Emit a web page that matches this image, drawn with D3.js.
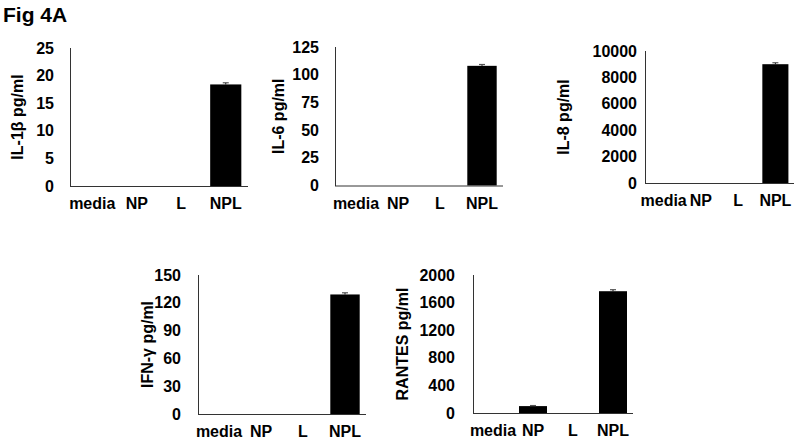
<!DOCTYPE html>
<html>
<head>
<meta charset="utf-8">
<script src="https://cdn.jsdelivr.net/npm/d3@7"></script>
<style>
  body { margin: 0; background: #fff; }
  svg text { font-family: "Liberation Sans", Arial, sans-serif; font-weight: bold; fill: #000; }
</style>
</head>
<body>
<svg id="fig" width="800" height="447"></svg>
<script>
// data
var categories = ["media", "NP", "L", "NPL"];

var il1bValues = [0, 0, 0, 18.4];
var il1bErrors = [0, 0, 0, 0.3];
var il1bTicks = [0, 5, 10, 15, 20, 25];

var il6Values = [0, 0, 0, 108];
var il6Errors = [0, 0, 0, 1.2];
var il6Ticks = [0, 25, 50, 75, 100, 125];

var il8Values = [0, 0, 0, 9000];
var il8Errors = [0, 0, 0, 110];
var il8Ticks = [0, 2000, 4000, 6000, 8000, 10000];

var ifngValues = [0, 0, 0, 129];
var ifngErrors = [0, 0, 0, 1.8];
var ifngTicks = [0, 30, 60, 90, 120, 150];

var rantesValues = [0, 100, 0, 1765];
var rantesErrors = [0, 8, 0, 22];
var rantesTicks = [0, 400, 800, 1200, 1600, 2000];

var titles = ["IL-1\u03b2 pg/ml", "IL-6 pg/ml", "IL-8 pg/ml", "IFN-\u03b3 pg/ml", "RANTES pg/ml"];

// layout of each small panel (pixels)
var panels = [
    { values: il1bValues, errors: il1bErrors, ticks: il1bTicks, title: titles[0], x0: 70, x1: 248, top: 48, bottom: 186, labelGap: 16, titleX: 17 },
    { values: il6Values, errors: il6Errors, ticks: il6Ticks, title: titles[1], x0: 335, x1: 503, top: 47, bottom: 185.5, labelGap: 16, titleX: 278 },
    { values: il8Values, errors: il8Errors, ticks: il8Ticks, title: titles[2], x0: 645, x1: 794, top: 51, bottom: 183, labelGap: 8, titleX: 563 },
    { values: ifngValues, errors: ifngErrors, ticks: ifngTicks, title: titles[3], x0: 198, x1: 366, top: 275, bottom: 414, labelGap: 17, titleX: 147 },
    { values: rantesValues, errors: rantesErrors, ticks: rantesTicks, title: titles[4], x0: 473, x1: 633, top: 275, bottom: 413, labelGap: 18, titleX: 402 }
];

var svg = d3.select("#fig");

svg.append("text")
    .attr("x", 3)
    .attr("y", 22)
    .style("font-size", "21px")
    .text("Fig 4A");

panels.forEach(function (p) {
    var x = d3.scaleBand()
        .domain(categories)
        .range([p.x0, p.x1])
        .paddingInner(0.3)
        .paddingOuter(0.15);

    var y = d3.scaleLinear()
        .domain([0, d3.max(p.ticks)])
        .range([p.bottom, p.top]);

    var g = svg.append("g");

    // bars
    g.selectAll(".bar")
        .data(p.values)
        .enter()
        .append("rect")
        .attr("class", "bar")
        .attr("x", (d, i) => x(categories[i]))
        .attr("width", x.bandwidth())
        .attr("y", d => y(d))
        .attr("height", d => p.bottom - y(d))
        .style("fill", "#000");

    // error bars (upper half only)
    p.values.forEach(function (v, i) {
        if (v <= 0) return;
        var cx = x(categories[i]) + x.bandwidth() / 2;
        var yTop = y(v + p.errors[i]);
        g.append("line")
            .attr("x1", cx).attr("x2", cx)
            .attr("y1", y(v)).attr("y2", yTop)
            .style("stroke", "#000").style("stroke-width", 1);
        g.append("line")
            .attr("x1", cx - 3).attr("x2", cx + 3)
            .attr("y1", yTop).attr("y2", yTop)
            .style("stroke", "#555").style("stroke-width", 1.2);
    });

    // y axis
    var yAxis = g.append("g")
        .attr("transform", "translate(" + p.x0 + ",0)")
        .call(d3.axisLeft(y).tickValues(p.ticks).tickSize(0).tickPadding(p.labelGap).tickFormat(d3.format("d")));
    yAxis.select(".domain").style("stroke", "#333").attr("d", "M0.5," + p.top + "V" + (p.bottom + 0.5));
    yAxis.selectAll("text").style("font-size", "16px").style("font-family", null);

    // x axis
    var xAxis = g.append("g")
        .attr("transform", "translate(0," + p.bottom + ")")
        .call(d3.axisBottom(x).tickSize(0).tickPadding(12));
    xAxis.select(".domain").style("stroke", "#333").attr("d", "M" + p.x0 + ",0.5H" + p.x1);
    xAxis.selectAll("text").style("font-size", "16px").style("font-family", null);

    // axis title
    g.append("text")
        .attr("transform", "translate(" + p.titleX + "," + (p.top + p.bottom) / 2 + ") rotate(-90)")
        .attr("text-anchor", "middle")
        .attr("dy", "0.35em")
        .style("font-size", "16px")
        .text(p.title);
});
</script>
</body>
</html>
